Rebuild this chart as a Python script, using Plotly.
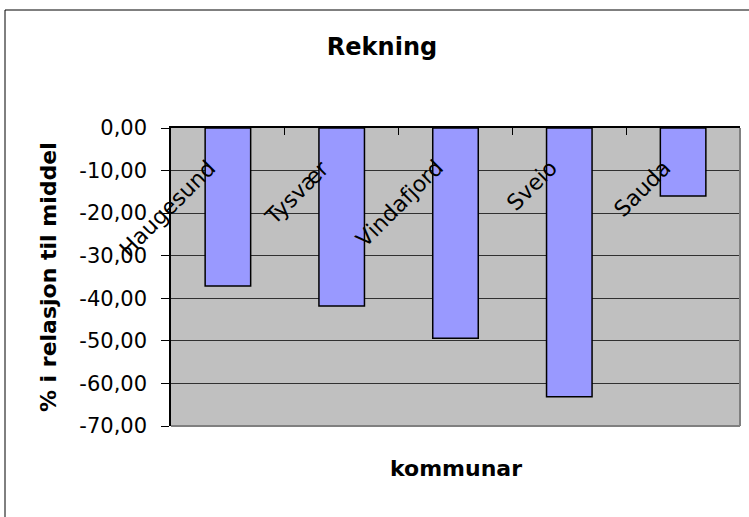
import plotly.graph_objects as go

categories = ["Haugesund", "Tysvær", "Vindafjord", "Sveio", "Sauda"]
values = [-37.1, -41.8, -49.4, -63.1, -16.0]
title_text = "Rekning"
x_title = "kommunar"
y_title = "% i relasjon til middel"
y_ticks = [0, -10, -20, -30, -40, -50, -60, -70]
y_ticktext = ["0,00", "-10,00", "-20,00", "-30,00", "-40,00", "-50,00", "-60,00", "-70,00"]

FONT = "DejaVu Sans"

fig = go.Figure()
fig.add_trace(go.Bar(
    x=categories, y=values,
    marker=dict(color="#9999FF", line=dict(color="#000000", width=1.5)),
    showlegend=False,
))

annotations = []
for c in categories:
    annotations.append(dict(
        x=c, y=0, xref="x", yref="y", text=c, showarrow=False,
        textangle=-45, xanchor="right", yanchor="top",
        xshift=-6, yshift=-26, borderpad=0,
        font=dict(family=FONT, size=22, color="#000"),
    ))
annotations.append(dict(
    x=0.5, y=-0.141, xref="paper", yref="paper", text="<b>%s</b>" % x_title,
    showarrow=False, xanchor="center", yanchor="middle",
    font=dict(family=FONT, size=22, color="#000"),
))
annotations.append(dict(
    x=-0.216, y=0.5, xref="paper", yref="paper", text="<b>%s</b>" % y_title,
    showarrow=False, xanchor="center", yanchor="middle", textangle=-90,
    font=dict(family=FONT, size=22, color="#000"),
))

shapes = [
    dict(type="rect", xref="paper", yref="paper",
         x0=(5 - 171) / 569, x1=(760 - 171) / 569,
         y0=(426 - 540) / 298, y1=1 + (128 - 10) / 298,
         line=dict(color="#000", width=1), fillcolor="rgba(0,0,0,0)", layer="above"),
    dict(type="line", xref="paper", yref="paper", x0=1, x1=1, y0=0, y1=1,
         line=dict(color="#808080", width=2), layer="above"),
    dict(type="line", xref="paper", yref="paper", x0=0, x1=1, y0=0, y1=0,
         line=dict(color="#808080", width=2), layer="above"),
]

fig.update_layout(
    width=749, height=517,
    margin=dict(l=171, r=9, t=128, b=91),
    paper_bgcolor="#FFFFFF", plot_bgcolor="#C0C0C0",
    bargap=0.6,
    title=dict(text="<b>%s</b>" % title_text, x=382 / 749, xanchor="center",
               y=1 - 47 / 517, yanchor="middle",
               font=dict(family=FONT, size=24, color="#000")),
    font=dict(family=FONT, size=20, color="#000"),
    annotations=annotations,
    shapes=shapes,
    xaxis=dict(side="top", range=[-0.5, len(categories) - 0.5], autorange=False,
               showline=True, linecolor="#000", linewidth=1.5,
               ticks="inside", tickson="boundaries", ticklen=7, tickcolor="#000",
               showticklabels=False, showgrid=False, zeroline=False,
               fixedrange=True),
    yaxis=dict(range=[-70, 0], autorange=False, tickvals=y_ticks, ticktext=y_ticktext,
               showline=True, linecolor="#000", linewidth=1.5,
               ticks="outside", ticklen=8, tickcolor="#000",
               showgrid=True, gridcolor="#303030", gridwidth=1,
               zeroline=False, ticklabelstandoff=10,
               tickfont=dict(family=FONT, size=21, color="#000")),
)

fig.write_html("out.html", config={"displayModeBar": False},
               post_script="document.body.style.margin='0';")
